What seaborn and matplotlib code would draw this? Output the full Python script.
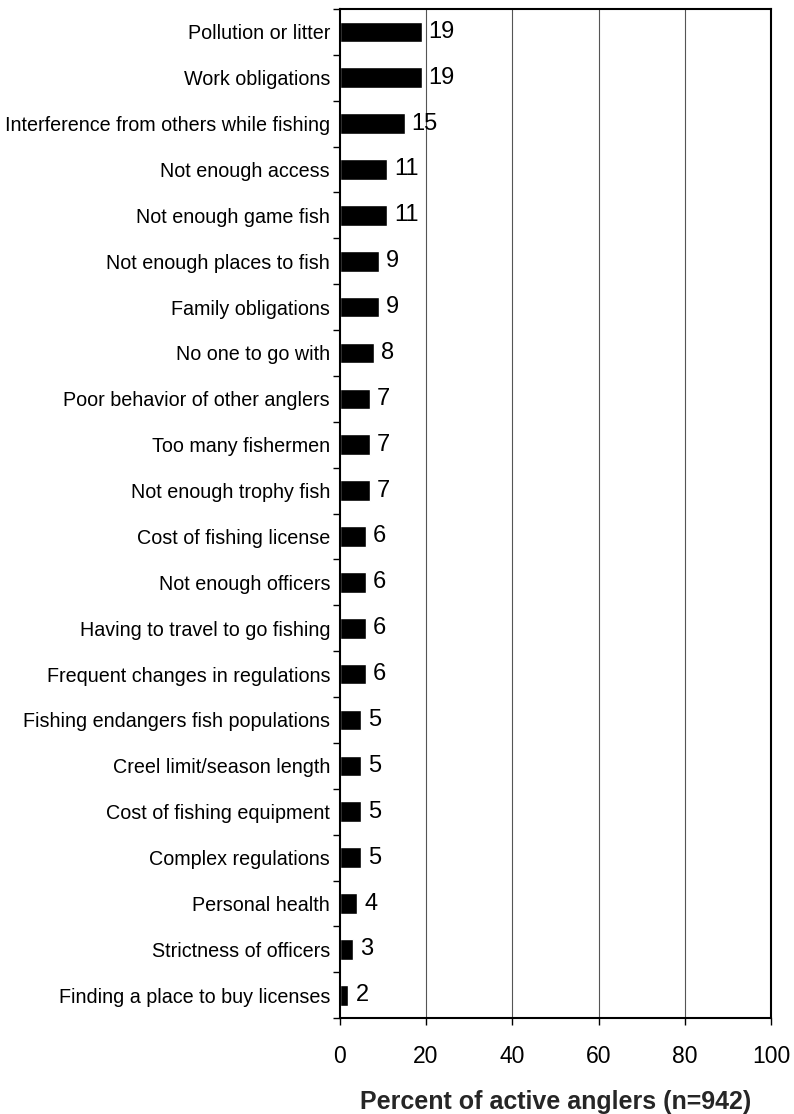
import matplotlib
matplotlib.use("Agg")
import matplotlib.pyplot as plt
import seaborn as sns
import pandas as pd

reasons = [
    "Pollution or litter",
    "Work obligations",
    "Interference from others while fishing",
    "Not enough access",
    "Not enough game fish",
    "Not enough places to fish",
    "Family obligations",
    "No one to go with",
    "Poor behavior of other anglers",
    "Too many fishermen",
    "Not enough trophy fish",
    "Cost of fishing license",
    "Not enough officers",
    "Having to travel to go fishing",
    "Frequent changes in regulations",
    "Fishing endangers fish populations",
    "Creel limit/season length",
    "Cost of fishing equipment",
    "Complex regulations",
    "Personal health",
    "Strictness of officers",
    "Finding a place to buy licenses",
]
percents = [19, 19, 15, 11, 11, 9, 9, 8, 7, 7, 7, 6, 6, 6, 6, 5, 5, 5, 5, 4, 3, 2]
x_ticks = [0, 20, 40, 60, 80, 100]

sns.set_theme(style="white")
plt.rcParams["font.family"] = ["Liberation Sans", "DejaVu Sans"]
plt.rcParams["text.color"] = "black"
plt.rcParams["xtick.color"] = "black"
plt.rcParams["ytick.color"] = "black"

df = pd.DataFrame({"reason": reasons, "percent": percents})

fig = plt.figure(figsize=(7.94, 11.14), dpi=100)
ax = fig.add_axes([0.428, 0.086, 0.543, 0.906])

sns.barplot(data=df, y="reason", x="percent", orient="h", color="black",
            width=0.45, saturation=1, ax=ax)

for c in ax.containers:
    labs = ax.bar_label(c, labels=[str(v) for v in percents], padding=5, fontsize=17)
    for t in labs:
        t.set_va("center")

ax.set_xlim(0, 100)
ax.set_xticks(x_ticks)
ax.set_xticklabels([str(t) for t in x_ticks], fontsize=16.5)
ax.set_ylim(len(reasons) - 0.5, -0.5)

# tick marks at category boundaries on y
ax.set_yticks(range(len(reasons)))
ax.set_yticklabels(reasons, fontsize=14.2)
ax.tick_params(axis="y", which="major", length=0, pad=7)
ax.set_yticks([i - 0.5 for i in range(len(reasons) + 1)], minor=True)
ax.tick_params(axis="y", which="minor", length=5, width=1, color="black", direction="out", left=True)
ax.tick_params(axis="x", length=5, width=1, color="black", direction="out", bottom=True, pad=14)

for x in x_ticks[1:-1]:
    ax.axvline(x, color="#555555", linewidth=0.8, zorder=0)

for s in ax.spines.values():
    s.set_color("black")
    s.set_linewidth(1.5)

ax.set_ylabel("")
ax.set_xlabel("Percent of active anglers (n=942)", fontsize=18, fontweight="bold", labelpad=16)

fig.savefig("out.png", dpi=100)
